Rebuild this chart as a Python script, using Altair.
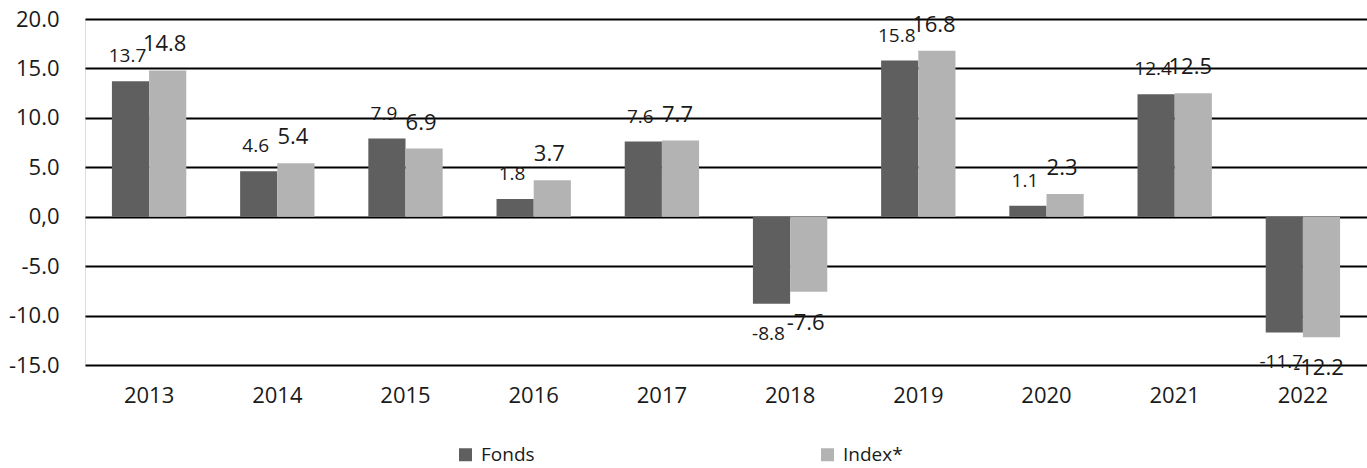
import altair as alt
import pandas as pd

years = ["2013", "2014", "2015", "2016", "2017", "2018", "2019", "2020", "2021", "2022"]
fonds = [13.7, 4.6, 7.9, 1.8, 7.6, -8.8, 15.8, 1.1, 12.4, -11.7]
index_vals = [14.8, 5.4, 6.9, 3.7, 7.7, -7.6, 16.8, 2.3, 12.5, -12.2]
series = ["Fonds", "Index*"]
colors = ["#5f5f5f", "#b3b3b3"]
y_ticks = [-15, -10, -5, 0, 5, 10, 15, 20]

rows = []
for y, f, i in zip(years, fonds, index_vals):
    rows.append({"year": y, "series": series[0], "value": f})
    rows.append({"year": y, "series": series[1], "value": i})
df = pd.DataFrame(rows)

FONT = "Open Sans"

x_enc = alt.X("year:N", sort=years, title=None,
              scale=alt.Scale(paddingInner=0.42, paddingOuter=0.21),
              axis=alt.Axis(labelAngle=0, ticks=False, domain=False, labelPadding=20,
                            labelFontSize=22, labelColor="#1a1a1a", labelFont=FONT))
y_enc = alt.Y("value:Q", title=None,
              scale=alt.Scale(domain=[-15, 20], nice=False, zero=False),
              axis=alt.Axis(values=y_ticks, grid=True, gridColor="#000000", gridWidth=2,
                            ticks=False, domain=False, labelPadding=26,
                            labelFontSize=22, labelColor="#1a1a1a", labelFont=FONT,
                            labelExpr="datum.value == 0 ? '0,0' : replace(format(datum.value, '.1f'), '\u2212', '-')"))
xoff = alt.XOffset("series:N", sort=series, scale=alt.Scale(paddingInner=0, paddingOuter=0))

base = alt.Chart(df).transform_calculate(
    label="replace(format(datum.value, '.1f'), '\u2212', '-')"
)

bars = base.mark_bar().encode(
    x=x_enc,
    y=y_enc,
    xOffset=xoff,
    color=alt.Color("series:N", sort=series, title=None,
                    scale=alt.Scale(domain=series, range=colors),
                    legend=alt.Legend(orient="none", legendX=371, legendY=426,
                                      direction="horizontal", columns=2,
                                      symbolType="square", symbolSize=169,
                                      symbolStrokeWidth=0, columnPadding=283,
                                      labelFontSize=19, labelFont=FONT,
                                      labelColor="#1a1a1a", labelOffset=6)),
)

def labels(name, size, positive):
    cond = "datum.value >= 0" if positive else "datum.value < 0"
    return base.transform_filter(
        f"datum.series == '{name}'"
    ).transform_filter(cond).mark_text(
        font=FONT, fontSize=size, color="#1a1a1a", dx=-3,
        baseline="alphabetic" if positive else "top",
        dy=-19 if positive else 21,
    ).encode(
        x=alt.X("year:N", sort=years),
        y=alt.Y("value:Q"),
        xOffset=xoff,
        text=alt.Text("label:N"),
    )

chart = alt.layer(
    bars,
    labels("Fonds", 19, True), labels("Fonds", 19, False),
    labels("Index*", 22, True), labels("Index*", 22, False),
).properties(
    width=1282, height=346,
    padding={"left": 85, "top": 19, "right": 0, "bottom": 103},
    autosize="none",
).configure_view(stroke=None).configure(background="white")

chart.save("out.html", embed_options={"renderer": "svg", "actions": False})
